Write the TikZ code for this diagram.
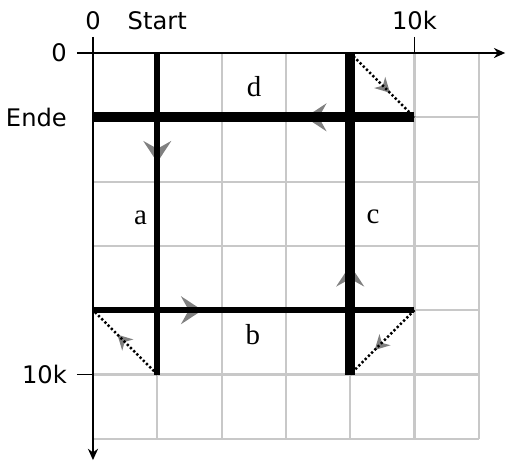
\documentclass[tikz,border=0pt]{standalone}
\usepackage{fontspec}
\setmainfont{DejaVu Sans}
\newfontfamily\letterfont{Liberation Serif}
\usepackage{tikz}
\usetikzlibrary{arrows.meta,decorations.markings}
\definecolor{gridgray}{HTML}{C8C8C8}
\definecolor{tipgray}{HTML}{808080}
\tikzset{
  gridline/.style={draw=gridgray, line width=0.9pt},
  axisline/.style={draw=black, line width=0.6pt},
  axislabel/.style={font=\fontsize{10.7}{12}\selectfont, inner sep=0pt},
  seglabel/.style={font=\letterfont\fontsize{12.8}{14}\selectfont, inner sep=0pt, anchor=base},
  midtip/.style={preaction={decorate, decoration={markings,
      mark=at position #1 with {\arrow[tipgray, line width=0pt]{Stealth[length=9.5pt, width=12.5pt, inset=3.5pt]}}}}},
  smalltip/.style={preaction={decorate, decoration={markings,
      mark=at position #1 with {\arrow[tipgray, line width=0pt]{Stealth[length=6.5pt, width=7pt, inset=2pt]}}}}},
  tracethin/.style={draw=black, line width=2.5pt, midtip=0.34},
  tracethick/.style={draw=black, line width=4.6pt, midtip=0.34},
  tracedot/.style={draw=black, line width=1.1pt, dash pattern=on 1pt off 1pt, smalltip=0.62},
}

\begin{document}
\begin{tikzpicture}[x=1cm, y=-1cm]
  \useasboundingbox (-1.446,-0.824) rectangle (6.423,6.345);

  % grid and axes
  \draw[gridline] (0,0) grid (6,6);
  \draw[axisline, -{Stealth[length=5pt, width=4.5pt]}] (-0.25,0) -- (6.41,0);
  \draw[axisline, -{Stealth[length=5pt, width=4.5pt]}] (0,-0.25) -- (0,6.33);
  \draw[axisline] (5,-0.25) -- (5,0);
  \draw[axisline] (-0.25,5) -- (0,5);

  \node[axislabel, anchor=base] (x0)    at (0,-0.373) {0};
  \node[axislabel, anchor=base] (start) at (1,-0.373) {Start};
  \node[axislabel, anchor=base] (x10k)  at (5,-0.373) {10k};
  \node[axislabel, anchor=east] (y0)    at (-0.40,0) {0};
  \node[axislabel, anchor=east] (ende)  at (-0.40,1) {Ende};
  \node[axislabel, anchor=east] (y10k)  at (-0.40,5) {10k};

  % corners of the route
  \coordinate (atop) at (1,0);
  \coordinate (abot) at (1,5);
  \coordinate (bleft) at (0,4);
  \coordinate (bright) at (5,4);
  \coordinate (cbot) at (4,5);
  \coordinate (ctop) at (4,0);
  \coordinate (dright) at (5,1);
  \coordinate (dleft) at (0,1);

  \draw[tracedot] (abot) -- (bleft);
  \draw[tracedot] (bright) -- (cbot);
  \draw[tracedot] (ctop) -- (dright);

  \draw[tracethin]  (atop) -- (abot);
  \draw[tracethin]  (bleft) -- (bright);
  \draw[tracethick] (cbot) -- (ctop);
  \draw[tracethick] (dright) -- (dleft);

  \node[seglabel] (la) at (0.739,2.66) {a};
  \node[seglabel] (lb) at (2.488,4.54) {b};
  \node[seglabel] (lc) at (4.355,2.644) {c};
  \node[seglabel] (ld) at (2.504,0.669) {d};
\end{tikzpicture}
\end{document}
